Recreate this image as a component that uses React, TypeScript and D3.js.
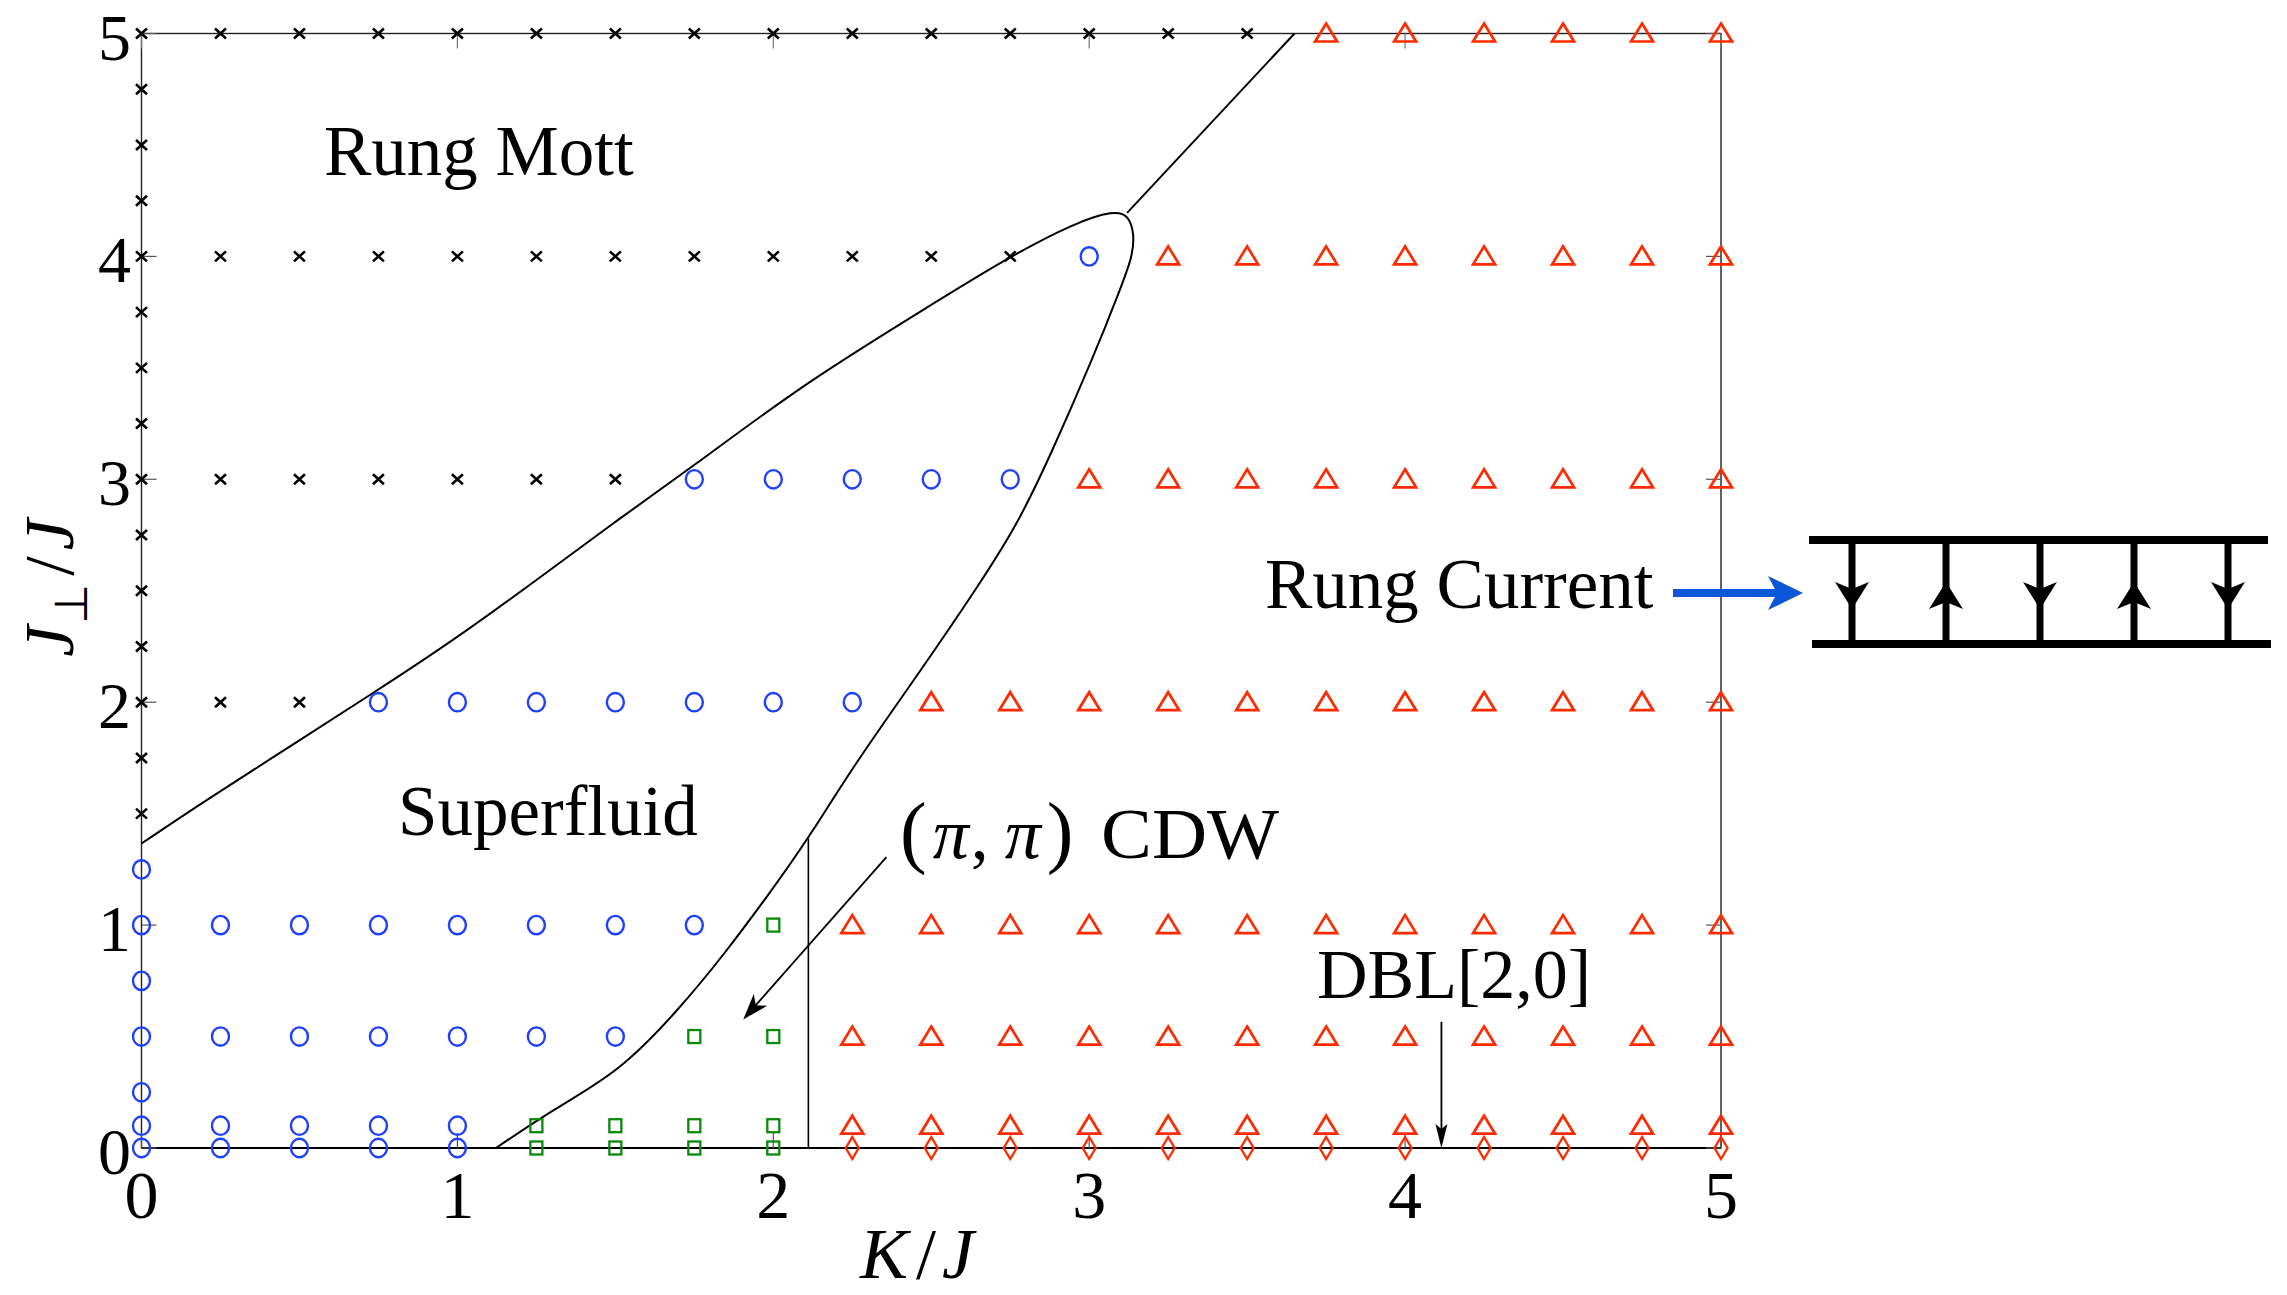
import React from 'react';
import * as d3 from 'd3';

// phase diagram: K/J vs J_perp/J, markers on the simulated grid
const kTicks = [0, 1, 2, 3, 4, 5];
const jTicks = [0, 1, 2, 3, 4, 5];

// each row: [J_perp, list of K]
const rungMott: [number, number[]][] = [
  [5, [0, 0.25, 0.5, 0.75, 1, 1.25, 1.5, 1.75, 2, 2.25, 2.5, 2.75, 3, 3.25, 3.5]],
  [4.75, [0]], [4.5, [0]], [4.25, [0]],
  [4, [0, 0.25, 0.5, 0.75, 1, 1.25, 1.5, 1.75, 2, 2.25, 2.5, 2.75]],
  [3.75, [0]], [3.5, [0]], [3.25, [0]],
  [3, [0, 0.25, 0.5, 0.75, 1, 1.25, 1.5]],
  [2.75, [0]], [2.5, [0]], [2.25, [0]],
  [2, [0, 0.25, 0.5]],
  [1.75, [0]], [1.5, [0]],
];
const superfluid: [number, number[]][] = [
  [4, [3]],
  [3, [1.75, 2, 2.25, 2.5, 2.75]],
  [2, [0.75, 1, 1.25, 1.5, 1.75, 2, 2.25]],
  [1.25, [0]],
  [1, [0, 0.25, 0.5, 0.75, 1, 1.25, 1.5, 1.75]],
  [0.75, [0]],
  [0.5, [0, 0.25, 0.5, 0.75, 1, 1.25, 1.5]],
  [0.25, [0]],
  [0.1, [0, 0.25, 0.5, 0.75, 1]],
  [0, [0, 0.25, 0.5, 0.75, 1]],
];
const cdw: [number, number[]][] = [
  [1, [2]],
  [0.5, [1.75, 2]],
  [0.1, [1.25, 1.5, 1.75, 2]],
  [0, [1.25, 1.5, 1.75, 2]],
];
const rungCurrent: [number, number[]][] = [
  [5, [3.75, 4, 4.25, 4.5, 4.75, 5]],
  [4, [3.25, 3.5, 3.75, 4, 4.25, 4.5, 4.75, 5]],
  [3, [3, 3.25, 3.5, 3.75, 4, 4.25, 4.5, 4.75, 5]],
  [2, [2.5, 2.75, 3, 3.25, 3.5, 3.75, 4, 4.25, 4.5, 4.75, 5]],
  [1, [2.25, 2.5, 2.75, 3, 3.25, 3.5, 3.75, 4, 4.25, 4.5, 4.75, 5]],
  [0.5, [2.25, 2.5, 2.75, 3, 3.25, 3.5, 3.75, 4, 4.25, 4.5, 4.75, 5]],
  [0.1, [2.25, 2.5, 2.75, 3, 3.25, 3.5, 3.75, 4, 4.25, 4.5, 4.75, 5]],
];
const dbl: [number, number[]][] = [
  [0, [2.25, 2.5, 2.75, 3, 3.25, 3.5, 3.75, 4, 4.25, 4.5, 4.75, 5]],
];

// superfluid boundary (closed lobe)
const boundaryK = [0, 0.196, 0.484, 0.741, 0.978, 1.246, 1.493, 1.74, 2.09, 2.481, 2.749, 2.955, 3.079, 3.125, 3.143, 3.137, 3.1, 3.017, 2.873, 2.77, 2.646, 2.461, 2.255, 2.111, 1.987, 1.843, 1.699, 1.514, 1.308, 1.122];
const boundaryJ = [1.366, 1.553, 1.814, 2.048, 2.268, 2.543, 2.804, 3.051, 3.423, 3.766, 4.0, 4.151, 4.206, 4.185, 4.1, 4.0, 3.86, 3.56, 3.093, 2.79, 2.515, 2.13, 1.718, 1.388, 1.14, 0.866, 0.618, 0.343, 0.178, 0];
const mottLineK = [3.12, 3.65];
const mottLineJ = [4.195, 5];
const cdwLineK = [2.111, 2.111];
const cdwLineJ = [0, 1.388];
const cdwArrowK = [2.358, 1.905];
const cdwArrowJ = [1.305, 0.577];
const dblArrowK = [4.115, 4.115];
const dblArrowJ = [0.566, 0];

const W = 2287;
const H = 1295;
const BLUE = '#1f3fff';
const RED = '#ff2a00';
const GREEN = '#0a8a0a';
const FONT = '"Liberation Serif", "Times New Roman", serif';

const x = d3.scaleLinear().domain([0, 5]).range([141.5, 1721]);
const y = d3.scaleLinear().domain([0, 5]).range([1148, 33.5]);

const flat = (rows: [number, number[]][]) =>
  rows.flatMap(([j, ks]) => ks.map(k => [x(k), y(j)] as [number, number]));

// stealth-style arrow head, tip at (x2,y2)
const arrowHead = (x1: number, y1: number, x2: number, y2: number, len: number, hw: number, notch: number) => {
  const a = Math.atan2(y2 - y1, x2 - x1);
  const ux = Math.cos(a), uy = Math.sin(a);
  const px = -uy, py = ux;
  const bx = x2 - ux * len, by = y2 - uy * len;
  const nx = x2 - ux * (len - notch), ny = y2 - uy * (len - notch);
  return `M${x2},${y2} L${bx + px * hw},${by + py * hw} L${nx},${ny} L${bx - px * hw},${by - py * hw} Z`;
};

const App = () => {
  // B-spline smooths out the reading noise of the traced points
  const lineGen = d3.line<number>()
    .x(i => x(boundaryK[i]))
    .y(i => y(boundaryJ[i]))
    .curve(d3.curveBasis);
  const boundaryPath = lineGen(boundaryK.map((_, i) => i)) || '';

  const ax1 = x(cdwArrowK[0]), ay1 = y(cdwArrowJ[0]);
  const ax2 = x(cdwArrowK[1]), ay2 = y(cdwArrowJ[1]);
  const dx = x(dblArrowK[0]), dy1 = y(dblArrowJ[0]), dy2 = y(dblArrowJ[1]);

  // ladder cartoon
  const rungX = [1852, 1946, 2040, 2134, 2228];
  const railTop = 540, railBot = 644;

  return (
    <svg width={W} height={H} style={{ position: 'absolute', left: 0, top: 0, background: '#fff' }}
      fontFamily={FONT}>
      {/* axes box */}
      <rect x={x(0)} y={y(5)} width={x(5) - x(0)} height={y(0) - y(5)} fill="none" stroke="#222" strokeWidth={1.4} />
      <line x1={x(0)} x2={x(5)} y1={y(0)} y2={y(0)} stroke="#000" strokeWidth={2} />
      {kTicks.map(t => (
        <g key={'kt' + t}>
          <line x1={x(t)} x2={x(t)} y1={y(0)} y2={y(0) - 15} stroke="#555" strokeWidth={1.2} />
          <line x1={x(t)} x2={x(t)} y1={y(5)} y2={y(5) + 15} stroke="#777" strokeWidth={1.2} />
          <text x={x(t)} y={1218} fontSize={68} textAnchor="middle">{t}</text>
        </g>
      ))}
      {jTicks.map(t => (
        <g key={'jt' + t}>
          <line x1={x(0)} x2={x(0) + 15} y1={y(t)} y2={y(t)} stroke="#555" strokeWidth={1.2} />
          <line x1={x(5)} x2={x(5) - 15} y1={y(t)} y2={y(t)} stroke="#555" strokeWidth={1.2} />
          <text x={131} y={y(t) + 26} fontSize={66} textAnchor="end">{t}</text>
        </g>
      ))}

      {/* axis labels */}
      <text x={860} y={1278} fontSize={72}>
        <tspan fontStyle="italic">K</tspan>
        <tspan dx={8}>/</tspan>
        <tspan dx={6} fontStyle="italic">J</tspan>
      </text>
      <text transform="translate(73,588) rotate(-90)" fontSize={70} textAnchor="middle">
        <tspan fontStyle="italic">J</tspan>
        <tspan fontSize={46} dy={14} dx={2}>⊥</tspan>
        <tspan dy={-14} dx={8}>/</tspan>
        <tspan dx={6} fontStyle="italic">J</tspan>
      </text>

      {/* phase boundaries */}
      <path d={boundaryPath} fill="none" stroke="#000" strokeWidth={2} />
      <line x1={x(mottLineK[0])} y1={y(mottLineJ[0])} x2={x(mottLineK[1])} y2={y(mottLineJ[1])} stroke="#000" strokeWidth={2} />
      <line x1={x(cdwLineK[0])} y1={y(cdwLineJ[0])} x2={x(cdwLineK[1])} y2={y(cdwLineJ[1])} stroke="#000" strokeWidth={1.6} />

      {/* markers */}
      {flat(rungMott).map(([cx, cy], i) => (
        <path key={'m' + i} d={`M${cx - 5.5},${cy - 5} L${cx + 5.5},${cy + 5} M${cx - 5.5},${cy + 5} L${cx + 5.5},${cy - 5}`}
          stroke="#000" strokeWidth={2.6} fill="none" />
      ))}
      {flat(superfluid).map(([cx, cy], i) => (
        <ellipse key={'s' + i} cx={cx} cy={cy} rx={8.5} ry={9.2} fill="none" stroke={BLUE} strokeWidth={2.4} />
      ))}
      {flat(cdw).map(([cx, cy], i) => (
        <rect key={'c' + i} x={cx - 6} y={cy - 6.5} width={12} height={13} fill="none" stroke={GREEN} strokeWidth={2.3} />
      ))}
      {flat(rungCurrent).map(([cx, cy], i) => (
        <path key={'r' + i} d={`M${cx},${cy - 10} L${cx + 11},${cy + 8} L${cx - 11},${cy + 8} Z`}
          fill="none" stroke={RED} strokeWidth={2.7} strokeLinejoin="miter" />
      ))}
      {flat(dbl).map(([cx, cy], i) => (
        <path key={'d' + i} d={`M${cx},${cy - 11} L${cx + 6.5},${cy} L${cx},${cy + 11} L${cx - 6.5},${cy} Z`}
          fill="none" stroke={RED} strokeWidth={2.3} />
      ))}

      {/* annotations */}
      <text x={324} y={175} fontSize={71}>Rung Mott</text>
      <text x={398} y={835} fontSize={71}>Superfluid</text>
      <text x={1317} y={998} fontSize={70}>DBL[2,0]</text>
      <text x={1265} y={608} fontSize={71}>Rung Current</text>
      <text x={900} y={858} fontSize={72}>
        <tspan fontSize={80}>(</tspan>
        <tspan fontStyle="italic" dx={6}>π</tspan>
        <tspan dx={2}>,</tspan>
        <tspan fontStyle="italic" dx={16}>π</tspan>
        <tspan dx={6} fontSize={80}>)</tspan>
        <tspan x={1101} textLength={178} lengthAdjust="spacingAndGlyphs">CDW</tspan>
      </text>

      <line x1={ax1} y1={ay1} x2={ax2 + (ax1 - ax2) * 0.06} y2={ay2 + (ay1 - ay2) * 0.06} stroke="#000" strokeWidth={1.8} />
      <path d={arrowHead(ax1, ay1, ax2, ay2, 26, 9, 7)} fill="#000" />
      <line x1={dx} y1={dy1} x2={dx} y2={dy2 - 15} stroke="#000" strokeWidth={1.8} />
      <path d={arrowHead(dx, dy1, dx, dy2, 24, 6, 5)} fill="#000" />

      {/* blue pointer arrow */}
      <line x1={1673} y1={593} x2={1780} y2={593} stroke="#0a58d8" strokeWidth={8} />
      <path d={arrowHead(1673, 593, 1803, 593, 35, 17, 9)} fill="#0a58d8" />

      {/* ladder */}
      <line x1={1809} x2={2268} y1={railTop} y2={railTop} stroke="#000" strokeWidth={8} />
      <line x1={1812} x2={2271} y1={railBot} y2={railBot} stroke="#000" strokeWidth={8} />
      {rungX.map((rx, i) => {
        const down = i % 2 === 0;
        return (
          <g key={'rung' + i}>
            <line x1={rx} x2={rx} y1={railTop} y2={railBot} stroke="#000" strokeWidth={7} />
            {down
              ? <path d={arrowHead(rx, 583, rx, 609, 27, 17, 7)} fill="#000" />
              : <path d={arrowHead(rx, 609, rx, 582, 27, 17, 7)} fill="#000" />}
          </g>
        );
      })}
    </svg>
  );
};

export default App;
